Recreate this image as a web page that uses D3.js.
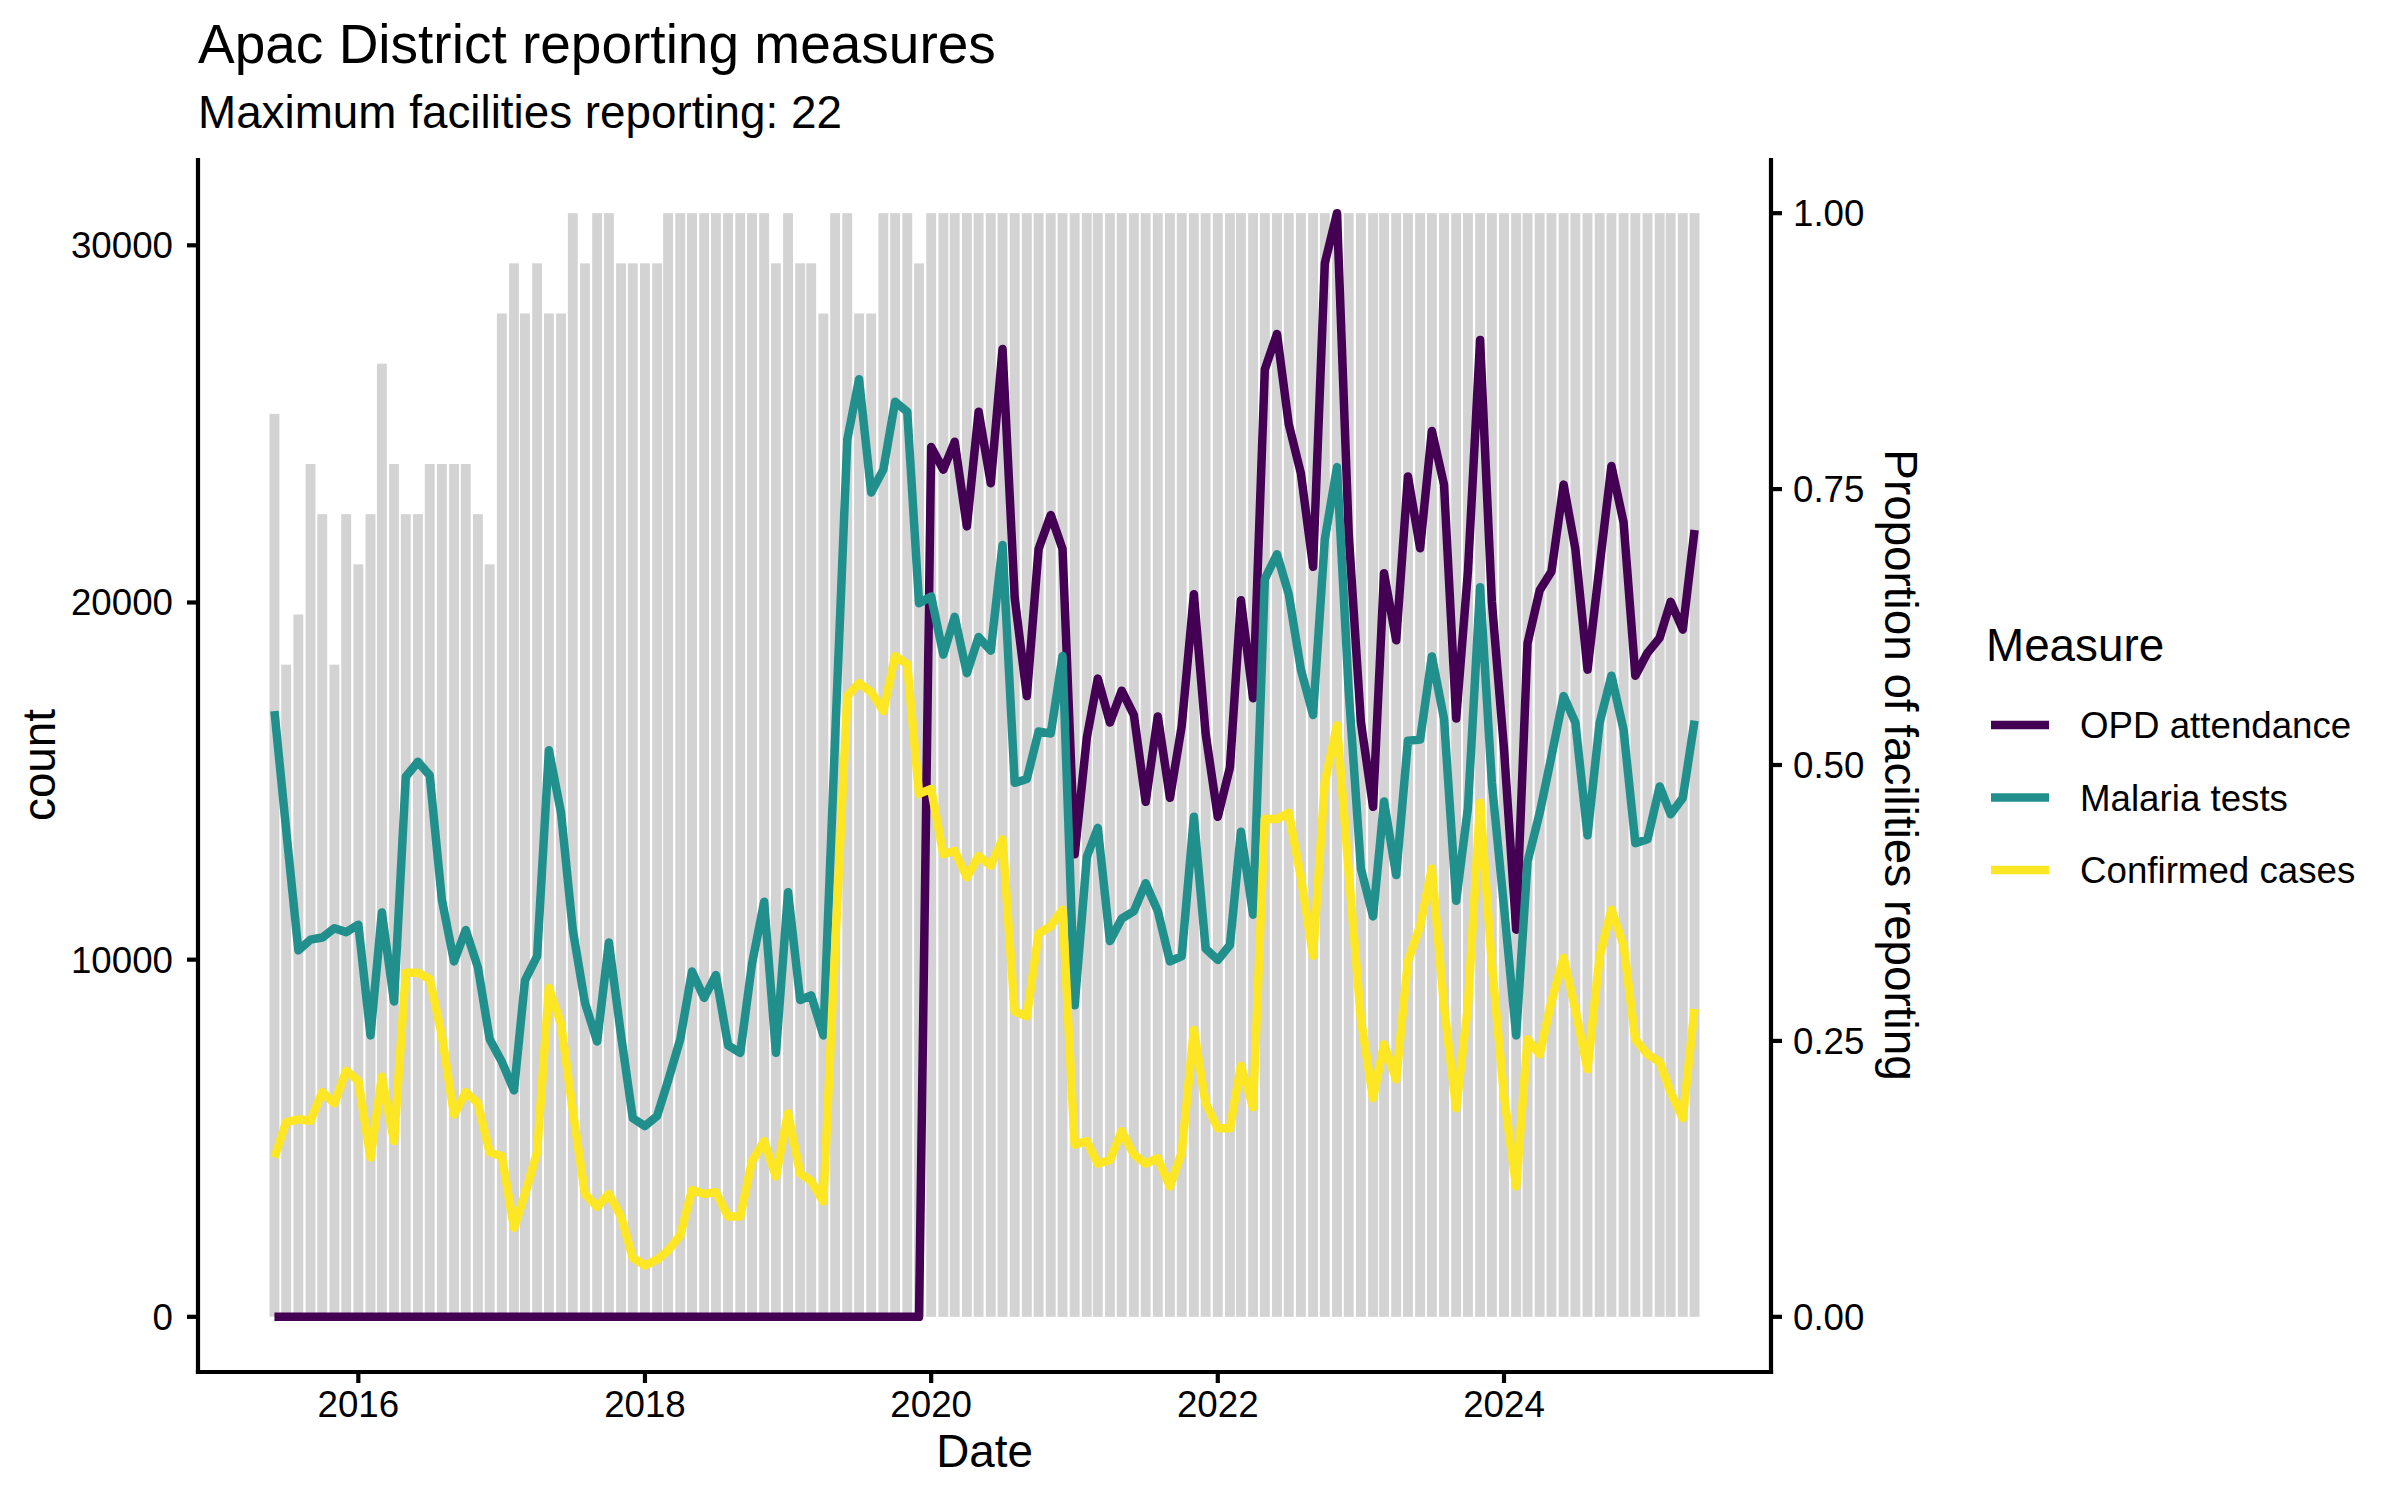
<!DOCTYPE html>
<html>
<head>
<meta charset="utf-8">
<script src="https://cdn.jsdelivr.net/npm/d3@7"></script>
<style>
  html, body { margin: 0; padding: 0; background: #fff; }
  svg { display: block; font-family: "Liberation Sans", Arial, Helvetica, sans-serif; }
</style>
</head>
<body>
<div id="chart"></div>
<script>
// Apac District reporting measures - monthly counts with facility reporting bars

// months: June 2015 to May 2025
const firstMonth = new Date(2015, 5, 1);
const lastMonth = new Date(2025, 4, 1);
const maxFacilities = 22;

// facilities reporting each month (out of 22)
const facilities = [
  18, 13, 14, 17, 16, 13, 16, 15, 16, 19, 17, 16, 16, 17, 17, 17, 17, 16, 15, 20,
  21, 20, 21, 20, 20, 22, 21, 22, 22, 21, 21, 21, 21, 22, 22, 22, 22, 22, 22, 22,
  22, 22, 21, 22, 21, 21, 20, 22, 22, 20, 20, 22, 22, 22, 21, 22, 22, 22, 22, 22,
  22, 22, 22, 22, 22, 22, 22, 22, 22, 22, 22, 22, 22, 22, 22, 22, 22, 22, 22, 22,
  22, 22, 22, 22, 22, 22, 22, 22, 22, 22, 22, 22, 22, 22, 22, 22, 22, 22, 22, 22,
  22, 22, 22, 22, 22, 22, 22, 22, 22, 22, 22, 22, 22, 22, 22, 22, 22, 22, 22, 22
];

const opdAttendance = [
  0, 0, 0, 0, 0, 0, 0, 0, 0, 0, 0, 0, 0, 0, 0, 0, 0, 0, 0, 0,
  0, 0, 0, 0, 0, 0, 0, 0, 0, 0, 0, 0, 0, 0, 0, 0, 0, 0, 0, 0,
  0, 0, 0, 0, 0, 0, 0, 0, 0, 0, 0, 0, 0, 0, 0, 24350, 23720, 24500, 22130, 25340,
  23340, 27100, 20130, 17380, 21500, 22450, 21500, 12950, 16220, 17870, 16640, 17530, 16850, 14420, 16810, 14530, 16540, 20230, 16330, 14000,
  15380, 20060, 17320, 26530, 27520, 24990, 23610, 21000, 29500, 30900, 21900, 16650, 14280, 20820, 18940, 23530, 21520, 24800, 23300, 16750,
  20870, 27350, 20020, 15900, 10840, 18860, 20340, 20870, 23300, 21500, 18120, 21040, 23820, 22240, 17950, 18590, 19010, 20020, 19240, 22030
];

const malariaTests = [
  16960, 13620, 10260, 10560, 10620, 10880, 10770, 10980, 7880, 11320,
  8830, 15120, 15540, 15160, 11680, 9950, 10830, 9780, 7770, 7140,
  6340, 9420, 10100, 15860, 14110, 10830, 8790, 7710, 10480, 7880,
  5560, 5340, 5620, 6610, 7770, 9670, 8930, 9570, 7600, 7390,
  9880, 11620, 7390, 11890, 8870, 9000, 7880, 16200, 24560, 26250,
  23080, 23720, 25620, 25340, 19980, 20170, 18540, 19600, 18020, 19030,
  18650, 21610, 14950, 15060, 16390, 16330, 18500, 8720, 12880, 13690,
  10520, 11150, 11360, 12140, 11360, 9950, 10100, 14000, 10310, 9990,
  10410, 13580, 11260, 20660, 21350, 20230, 18120, 16850, 21770, 23790,
  17500, 12550, 11210, 14430, 12370, 16130, 16160, 18490, 16750, 11650,
  14250, 20430, 14950, 11470, 7880, 12740, 14110, 15690, 17380, 16640,
  13480, 16640, 17950, 16430, 13260, 13370, 14850, 14070, 14530, 16690
];

const confirmedCases = [
  4460, 5450, 5530, 5490, 6290, 5980, 6890, 6610, 4460, 6720,
  4920, 9630, 9630, 9460, 7880, 5660, 6290, 5980, 4600, 4500,
  2490, 3440, 4600, 9210, 8200, 5770, 3440, 3080, 3440, 2810,
  1650, 1440, 1600, 1860, 2280, 3550, 3440, 3490, 2810, 2810,
  4350, 4920, 3930, 5700, 4010, 3800, 3230, 10300, 17380, 17740,
  17490, 16960, 18500, 18270, 14640, 14780, 12950, 13050, 12310, 12900,
  12630, 13370, 8550, 8410, 10730, 10940, 11400, 4820, 4920, 4290,
  4390, 5200, 4540, 4290, 4440, 3650, 4600, 8030, 5980, 5280,
  5280, 7030, 5870, 13940, 13940, 14110, 12310, 10110, 14960, 16560,
  12460, 8340, 6120, 7630, 6650, 9960, 10940, 12550, 8700, 5840,
  8700, 14390, 9880, 6190, 3650, 7770, 7350, 8830, 10050, 8620,
  6930, 10100, 11400, 10410, 7770, 7350, 7140, 6290, 5560, 8620
];

const measureNames = ['OPD attendance', 'Malaria tests', 'Confirmed cases'];
const measureColors = ['#440154', '#21908C', '#FDE725'];
const measureValues = [opdAttendance, malariaTests, confirmedCases];

const countTicks = [0, 10000, 20000, 30000];
const propTicks = [0, 0.25, 0.5, 0.75, 1];
const yearTicks = [2016, 2018, 2020, 2022, 2024];

// ---- layout ----
const width = 2400;
const height = 1500;
const panel = { left: 198, right: 1771, top: 158, bottom: 1372 };
const axisFont = 36.7;
const titleFont = 45.8;

const months = d3.timeMonth.range(firstMonth, d3.timeMonth.offset(lastMonth, 1));

// secondary axis: proportion * max OPD count
const scaleFactor = d3.max(opdAttendance);

const svg = d3.select('#chart')
  .append('svg')
  .attr('width', width)
  .attr('height', height);

// x scale with half bar width (0.9 * 28 days) and 5% expansion
const halfBar = 0.45 * 28 * 864e5;
const xMin = +firstMonth - halfBar;
const xMax = +lastMonth + halfBar;
const xPad = (xMax - xMin) * 0.05;
const x = d3.scaleTime()
  .domain([new Date(xMin - xPad), new Date(xMax + xPad)])
  .range([panel.left, panel.right]);

const yTop = d3.max([scaleFactor, d3.max(malariaTests), d3.max(confirmedCases)]);
const y = d3.scaleLinear()
  .domain([-0.05 * yTop, 1.05 * yTop])
  .range([panel.bottom, panel.top]);

// bars: proportion of facilities reporting
svg.append('g')
  .selectAll('rect')
  .data(months)
  .join('rect')
  .attr('x', d => x(new Date(+d - halfBar)))
  .attr('width', d => x(new Date(+d + halfBar)) - x(new Date(+d - halfBar)))
  .attr('y', (d, i) => y(facilities[i] / maxFacilities * scaleFactor))
  .attr('height', (d, i) => y(0) - y(facilities[i] / maxFacilities * scaleFactor))
  .style('fill', '#D3D3D3');

// lines
const line = d3.line()
  .x((d, i) => x(months[i]))
  .y(d => y(d));

measureValues.forEach(function(vals, k) {
  svg.append('path')
    .attr('d', line(vals))
    .style('fill', 'none')
    .style('stroke', measureColors[k])
    .style('stroke-width', 8.5)
    .style('stroke-linejoin', 'round')
    .style('stroke-linecap', 'butt');
});

// axes
const axisColor = '#000';
const axisWidth = 4.2;
const tickLen = 11;

function axisLine(x1, y1, x2, y2) {
  svg.append('line')
    .attr('x1', x1).attr('y1', y1)
    .attr('x2', x2).attr('y2', y2)
    .style('stroke', axisColor)
    .style('stroke-width', axisWidth);
}

axisLine(panel.left, panel.top, panel.left, panel.bottom + axisWidth / 2);
axisLine(panel.right, panel.top, panel.right, panel.bottom + axisWidth / 2);
axisLine(panel.left - axisWidth / 2, panel.bottom, panel.right + axisWidth / 2, panel.bottom);

// left axis ticks
countTicks.forEach(function(t) {
  const yy = y(t);
  axisLine(panel.left - tickLen, yy, panel.left, yy);
  svg.append('text')
    .attr('x', panel.left - tickLen - 14)
    .attr('y', yy + 13)
    .attr('text-anchor', 'end')
    .style('font-size', axisFont + 'px')
    .style('fill', '#000')
    .text(t);
});

// right axis ticks
propTicks.forEach(function(t) {
  const yy = y(t * scaleFactor);
  axisLine(panel.right, yy, panel.right + tickLen, yy);
  svg.append('text')
    .attr('x', panel.right + tickLen + 11)
    .attr('y', yy + 13)
    .attr('text-anchor', 'start')
    .style('font-size', axisFont + 'px')
    .style('fill', '#000')
    .text(d3.format('.2f')(t));
});

// bottom axis ticks
yearTicks.forEach(function(yr) {
  const xx = x(new Date(yr, 0, 1));
  axisLine(xx, panel.bottom, xx, panel.bottom + tickLen);
  svg.append('text')
    .attr('x', xx)
    .attr('y', 1417)
    .attr('text-anchor', 'middle')
    .style('font-size', axisFont + 'px')
    .style('fill', '#000')
    .text(yr);
});

// axis titles
const panelMidX = (panel.left + panel.right) / 2;
const panelMidY = (panel.top + panel.bottom) / 2;

svg.append('text')
  .attr('x', panelMidX)
  .attr('y', 1467)
  .attr('text-anchor', 'middle')
  .style('font-size', titleFont + 'px')
  .text('Date');

svg.append('text')
  .attr('transform', `translate(55, ${panelMidY}) rotate(-90)`)
  .attr('text-anchor', 'middle')
  .style('font-size', titleFont + 'px')
  .text('count');

svg.append('text')
  .attr('transform', `translate(1885, ${panelMidY}) rotate(90)`)
  .attr('text-anchor', 'middle')
  .style('font-size', titleFont + 'px')
  .text('Proportion of facilities reporting');

// title and subtitle
svg.append('text')
  .attr('x', panel.left)
  .attr('y', 63)
  .style('font-size', '55px')
  .text('Apac District reporting measures');

svg.append('text')
  .attr('x', panel.left)
  .attr('y', 128)
  .style('font-size', titleFont + 'px')
  .text('Maximum facilities reporting: ' + maxFacilities);

// legend
const legend = svg.append('g').attr('class', 'legend');
legend.append('text')
  .attr('x', 1986)
  .attr('y', 661)
  .style('font-size', titleFont + 'px')
  .text('Measure');

measureNames.forEach(function(name, k) {
  const cy = 725 + k * 72.5;
  legend.append('line')
    .attr('x1', 1991).attr('x2', 2049)
    .attr('y1', cy).attr('y2', cy)
    .style('stroke', measureColors[k])
    .style('stroke-width', 8.5);
  legend.append('text')
    .attr('x', 2080)
    .attr('y', cy + 13)
    .style('font-size', axisFont + 'px')
    .text(name);
});
</script>
</body>
</html>
